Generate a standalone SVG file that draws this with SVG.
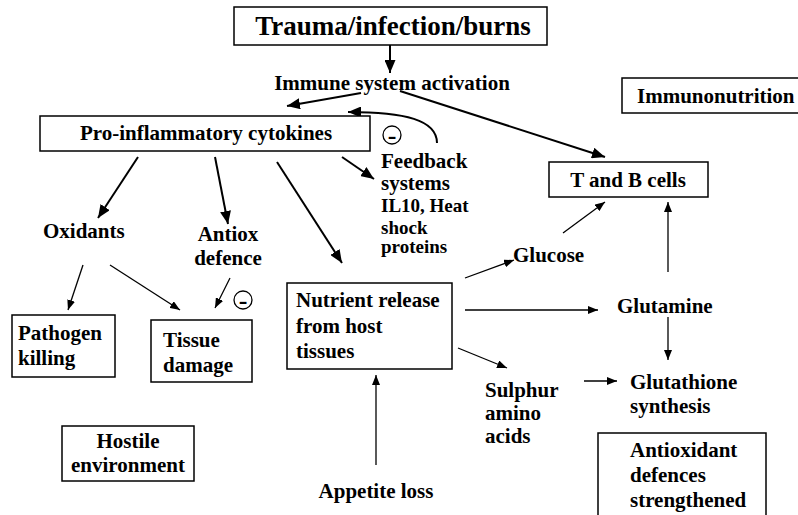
<svg xmlns="http://www.w3.org/2000/svg" width="798" height="515" viewBox="0 0 798 515">
<style>
text{font-family:"Liberation Serif","Times New Roman",serif;font-weight:bold;font-size:21px;fill:#000}
.box{fill:#fff;stroke:#000;stroke-width:1.5}
.thick{fill:none;stroke:#000;stroke-width:2}
.thin{fill:none;stroke:#000;stroke-width:1.3}
.c{text-anchor:middle}
.m{font-size:26px}
</style>
<defs>
<marker id="ah" markerUnits="userSpaceOnUse" markerWidth="13" markerHeight="11" refX="13" refY="5.5" orient="auto"><path d="M0,0 L13,5.5 L0,11 z" fill="#000"/></marker>
<marker id="as" markerUnits="userSpaceOnUse" markerWidth="10" markerHeight="8" refX="10" refY="4" orient="auto"><path d="M0,0 L10,4 L0,8 z" fill="#000"/></marker>
</defs>
<rect width="798" height="515" fill="#fff"/>
<g id="connectors">
<line class="thick" x1="390" y1="45" x2="390" y2="73" marker-end="url(#ah)"/>
<line class="thick" x1="361" y1="93" x2="287" y2="106" marker-end="url(#ah)"/>
<line class="thick" x1="400" y1="91" x2="605" y2="157" marker-end="url(#ah)"/>
<path class="thick" d="M437,143 C437,120 405,112 348,112" marker-end="url(#ah)"/>
<line class="thick" x1="342" y1="157" x2="374" y2="179" marker-end="url(#ah)"/>
<line class="thick" x1="138" y1="157" x2="98" y2="218" marker-end="url(#ah)"/>
<line class="thick" x1="215" y1="157" x2="228" y2="224" marker-end="url(#ah)"/>
<line class="thick" x1="277" y1="162" x2="342" y2="263" marker-end="url(#ah)"/>
<line class="thin" x1="83" y1="265" x2="68" y2="310" marker-end="url(#as)"/>
<line class="thin" x1="110" y1="265" x2="180" y2="310" marker-end="url(#as)"/>
<line class="thin" x1="230" y1="278" x2="215" y2="308" marker-end="url(#as)"/>
<line class="thin" x1="376" y1="465" x2="376" y2="375" marker-end="url(#as)"/>
<line class="thin" x1="465" y1="278" x2="514" y2="260" marker-end="url(#as)"/>
<line class="thin" x1="465" y1="310" x2="598" y2="310" marker-end="url(#as)"/>
<line class="thin" x1="458" y1="348" x2="507" y2="368" marker-end="url(#as)"/>
<line class="thin" x1="584" y1="381" x2="617" y2="381" marker-end="url(#as)"/>
<line class="thin" x1="668" y1="317" x2="668" y2="360" marker-end="url(#as)"/>
<line class="thin" x1="668" y1="272" x2="668" y2="202" marker-end="url(#as)"/>
<line class="thin" x1="563" y1="233" x2="605" y2="202" marker-end="url(#as)"/>
</g>
<g id="trauma"><rect class="box" x="234" y="7" width="313" height="38"/><text class="c" x="393" y="35" style="font-size:27px">Trauma/infection/burns</text></g>
<g id="immune"><text class="c" x="392" y="90">Immune system activation</text></g>
<g id="proinflam"><rect class="box" x="40" y="116" width="330" height="35"/><text class="c" x="206" y="140">Pro-inflammatory cytokines</text></g>
<g id="minus1"><circle class="thin" cx="392" cy="135" r="9" fill="#fff"/><text class="c m" x="392" y="144">-</text></g>
<g id="feedback"><text x="381" y="168">Feedback</text><text x="381" y="190">systems</text><text x="381" y="212" style="font-size:19px">IL10, Heat</text><text x="381" y="234" style="font-size:19px">shock</text><text x="381" y="253" style="font-size:19px">proteins</text></g>
<g id="immunonutrition"><rect class="box" x="622" y="78" width="180" height="35"/><text x="637" y="103">Immunonutrition</text></g>
<g id="tbcells"><rect class="box" x="549" y="162" width="159" height="35"/><text class="c" x="628" y="187">T and B cells</text></g>
<g id="oxidants"><text x="43" y="238">Oxidants</text></g>
<g id="antiox"><text class="c" x="228" y="241">Antiox</text><text class="c" x="228" y="265">defence</text></g>
<g id="minus2"><circle class="thin" cx="243" cy="300" r="9" fill="#fff"/><text class="c m" x="243" y="309">-</text></g>
<g id="pathogen"><rect class="box" x="12" y="315" width="103" height="62"/><text x="18" y="340">Pathogen</text><text x="18" y="365">killing</text></g>
<g id="tissue"><rect class="box" x="151" y="320" width="101" height="62"/><text x="163" y="347">Tissue</text><text x="163" y="372">damage</text></g>
<g id="nutrient"><rect class="box" x="287" y="283" width="165" height="86"/><text x="296" y="307">Nutrient release</text><text x="296" y="333">from host</text><text x="296" y="358">tissues</text></g>
<g id="hostile"><rect class="box" x="62" y="426" width="132" height="55"/><text class="c" x="128" y="448">Hostile</text><text class="c" x="128" y="472">environment</text></g>
<g id="appetite"><text class="c" x="376" y="498">Appetite loss</text></g>
<g id="glucose"><text x="513" y="262">Glucose</text></g>
<g id="glutamine"><text x="617" y="313">Glutamine</text></g>
<g id="sulphur"><text x="485" y="397">Sulphur</text><text x="485" y="420">amino</text><text x="485" y="443">acids</text></g>
<g id="glutathione"><text x="630" y="389">Glutathione</text><text x="630" y="413">synthesis</text></g>
<g id="antioxidant"><rect class="box" x="598" y="433" width="168" height="90"/><text x="630" y="457">Antioxidant</text><text x="630" y="482">defences</text><text x="630" y="507">strengthened</text></g>
</svg>
